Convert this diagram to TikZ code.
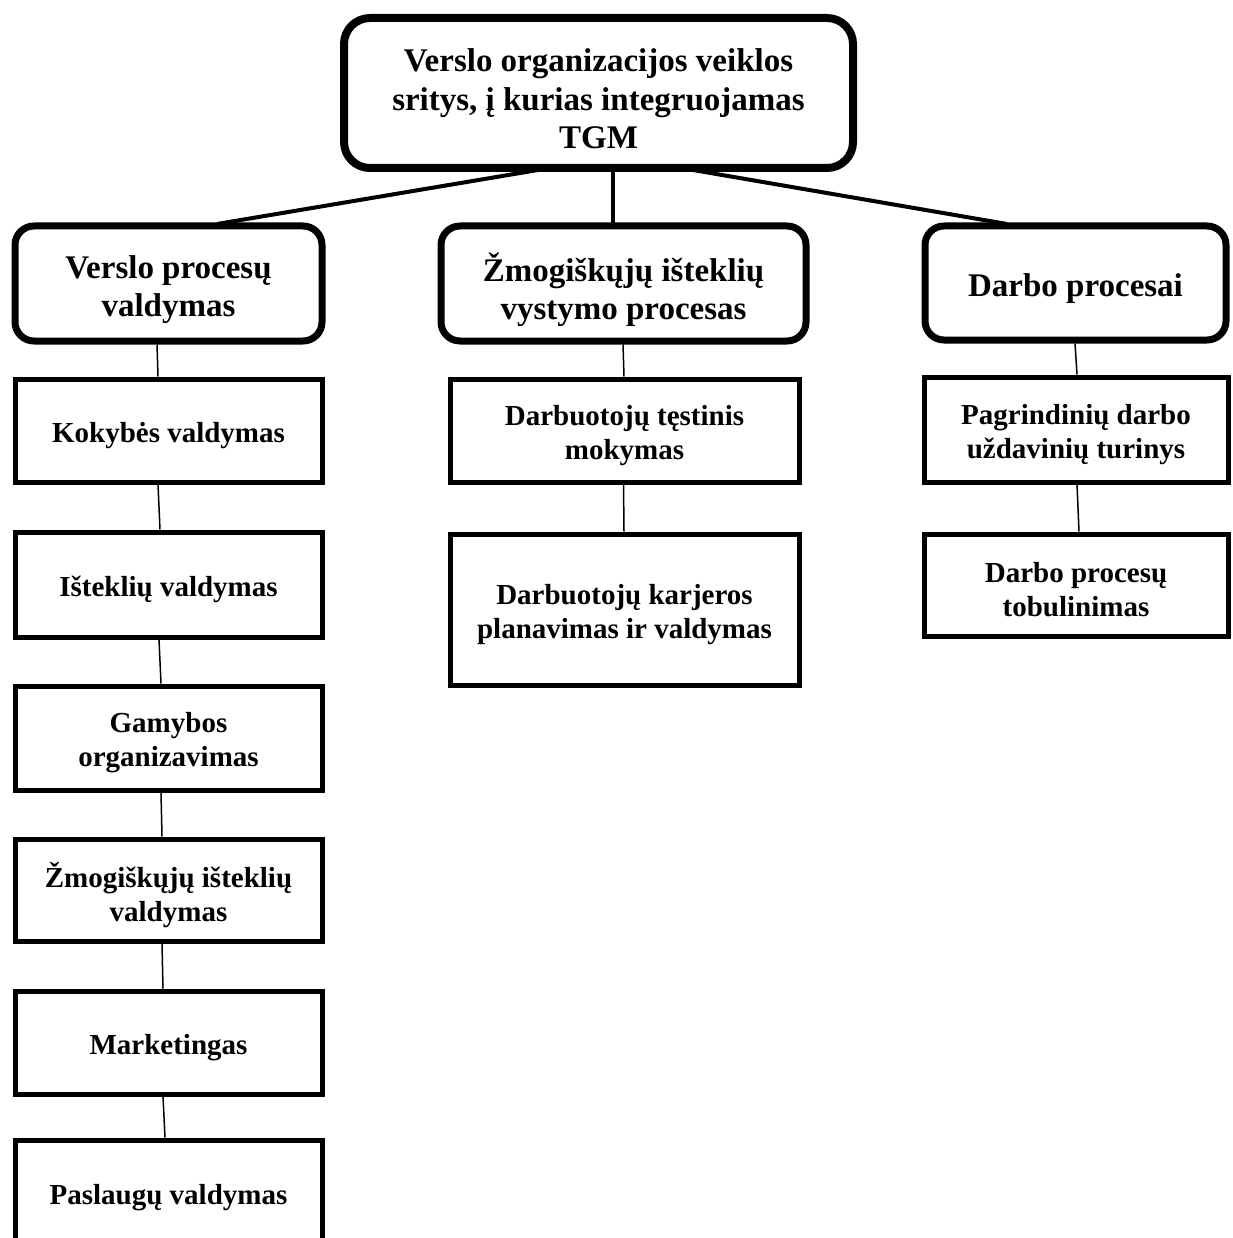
\documentclass[tikz,border=0pt]{standalone}
\usepackage{fontspec}
\setmainfont{Liberation Serif}
\usetikzlibrary{calc}
\begin{document}
\begin{tikzpicture}[x=1pt,y=-1pt,
  headbox/.style={draw=black, fill=white, line width=8pt, rounded corners=26pt, inner sep=0pt},
  areabox/.style={draw=black, fill=white, line width=7pt, rounded corners=19pt, inner sep=0pt},
  itembox/.style={draw=black, fill=white, line width=5pt, inner sep=0pt},
  headtext/.style={align=center, inner sep=0pt, yshift=-6pt, font=\fontsize{33}{38.5}\selectfont\bfseries},
  areatext/.style={align=center, inner sep=0pt, yshift=-6pt, font=\fontsize{33}{38}\selectfont\bfseries},
  itemtext/.style={align=center, inner sep=0pt, yshift=-5pt, font=\fontsize{29}{34}\selectfont\bfseries},
  mainlink/.style={draw=black, line width=4pt},
  sublink/.style={draw=black, line width=1.5pt}]
\clip (0,0) rectangle (1232,1238);
\fill[white] (0,0) rectangle (1232,1238);

\coordinate (tl) at (538,170);
\coordinate (tm) at (613,170);
\coordinate (tr) at (693,170);
\coordinate (bl) at (217,224);
\coordinate (bm) at (613,224);
\coordinate (br) at (1007,224);

% top node
\node[headbox, minimum width=509pt, minimum height=150pt,
  label={[headtext]center:{Verslo organizacijos veiklos\\sritys, į kurias integruojamas\\TGM}}]
  (top) at (598.5,93) {};

% level 2
\node[areabox, minimum width=307pt, minimum height=115pt,
  label={[areatext]center:{Verslo procesų\\valdymas}}] (vpv) at (168.5,283.5) {};
\node[areabox, minimum width=365pt, minimum height=115pt,
  label={[areatext]center:{Žmogiškųjų išteklių\\vystymo procesas}}] (zivp) at (623.5,283.5) {};
\node[areabox, minimum width=301pt, minimum height=114pt,
  label={[areatext]center:{Darbo procesai}}] (dp) at (1075.5,283) {};

% left column
\node[itembox, minimum width=307pt, minimum height=103pt,
  label={[itemtext]center:{Kokybės valdymas}}] (kok) at (168.5,430.5) {};
\node[itembox, minimum width=307pt, minimum height=105pt,
  label={[itemtext]center:{Išteklių valdymas}}] (ist) at (168.5,584.5) {};
\node[itembox, minimum width=307pt, minimum height=104pt,
  label={[itemtext]center:{Gamybos\\organizavimas}}] (gam) at (168.5,738) {};
\node[itembox, minimum width=307pt, minimum height=102pt,
  label={[itemtext]center:{Žmogiškųjų išteklių\\valdymas}}] (zmo) at (168.5,890) {};
\node[itembox, minimum width=307pt, minimum height=103pt,
  label={[itemtext]center:{Marketingas}}] (mar) at (168.5,1042.5) {};
\node[itembox, minimum width=307pt, minimum height=106pt,
  label={[itemtext]center:{Paslaugų valdymas}}] (pas) at (168.5,1193) {};

% middle column
\node[itembox, minimum width=349pt, minimum height=103pt,
  label={[itemtext]center:{Darbuotojų tęstinis\\mokymas}}] (dtm) at (624.5,430.5) {};
\node[itembox, minimum width=349pt, minimum height=151pt,
  label={[itemtext]center:{Darbuotojų karjeros\\planavimas ir valdymas}}] (dkp) at (624.5,609.5) {};

% right column
\node[itembox, minimum width=304pt, minimum height=105pt,
  label={[itemtext]center:{Pagrindinių darbo\\uždavinių turinys}}] (pdu) at (1076,429.5) {};
\node[itembox, minimum width=304pt, minimum height=102pt,
  label={[itemtext]center:{Darbo procesų\\tobulinimas}}] (dpt) at (1076,585) {};

% main connectors
\path[mainlink] (tl) -- (bl);
\path[mainlink] (tm) -- (bm);
\path[mainlink] (tr) -- (br);

% sub connectors
\path[sublink] ([xshift=-11.5pt]vpv.south) -- ([xshift=-10.5pt]kok.north);
\path[sublink] ([xshift=-10.5pt]kok.south) -- ([xshift=-8.5pt]ist.north);
\path[sublink] ([xshift=-9.5pt]ist.south) -- ([xshift=-7.5pt]gam.north);
\path[sublink] ([xshift=-7.5pt]gam.south) -- ([xshift=-6.5pt]zmo.north);
\path[sublink] ([xshift=-6.5pt]zmo.south) -- ([xshift=-5.5pt]mar.north);
\path[sublink] ([xshift=-5.5pt]mar.south) -- ([xshift=-3.5pt]pas.north);

\path[sublink] ([xshift=-0.5pt]zivp.south) -- ([xshift=-0.5pt]dtm.north);
\path[sublink] ([xshift=-1pt]dtm.south) -- ([xshift=-0.5pt]dkp.north);

\path[sublink] ([xshift=-0.5pt]dp.south) -- ([xshift=1pt]pdu.north);
\path[sublink] ([xshift=1pt]pdu.south) -- ([xshift=3pt]dpt.north);
\end{tikzpicture}
\end{document}
